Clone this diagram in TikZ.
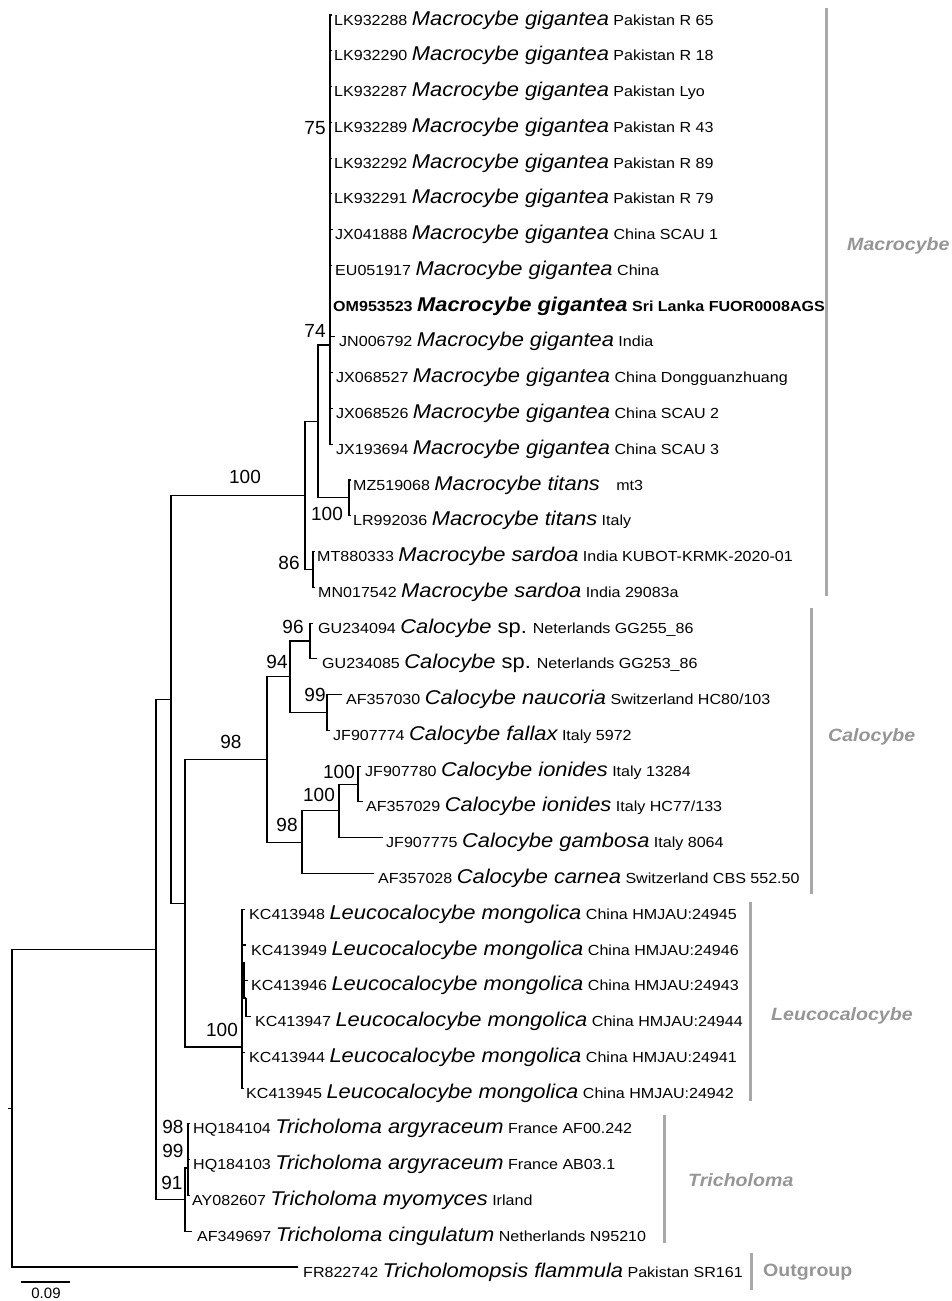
\documentclass[tikz,border=0pt]{standalone}
\usepackage{fontspec}
\setmainfont{Liberation Sans}
\newfontfamily\leaffont[FakeStretch=1.1]{Liberation Sans}
\newcommand{\accsize}{\fontsize{14.6}{17}\selectfont}
\newcommand{\spsize}{\fontsize{19.9}{23}\selectfont}
\newcommand{\taxon}[3]{\accsize #1 {\spsize\itshape #2} #3}
\definecolor{cladegray}{RGB}{150,150,150}
\definecolor{bargray}{RGB}{168,168,168}

\begin{document}
\begin{tikzpicture}[x=1pt, y=-1pt,
    branch/.style={line width=1.1pt},
    zerobranch/.style={line width=2.6pt},
    leaflab/.style={anchor=base west, inner sep=0pt, font=\leaffont},
    boot/.style={inner sep=0pt, font=\fontsize{19}{21}\selectfont},
    cladebar/.style={draw=bargray, line width=3pt},
    cladelab/.style={anchor=west, inner sep=0pt, text=cladegray,
        font=\leaffont\fontsize{17.8}{20}\selectfont\bfseries\itshape}]

    \useasboundingbox (0,0) rectangle (951,1301);

    % Internal nodes (x = depth, y = join point)
    \coordinate (root)   at (12,1108.3);
    \coordinate (stem)   at (8,1108.3);
    \coordinate (ingrp)  at (156,949.5);
    \coordinate (inB)    at (171,699.4);
    \coordinate (macro)  at (305,495.5);
    \coordinate (macA)   at (318,421.5);
    \coordinate (gig)    at (330,345);
    \coordinate (tit)    at (349,497.9);
    \coordinate (sard)   at (313,569.5);
    \coordinate (inC)    at (185,903.3);
    \coordinate (calo)   at (267,759.5);
    \coordinate (c94)    at (290,676.8);
    \coordinate (c96)    at (310,641);
    \coordinate (c99)    at (327,712.5);
    \coordinate (c98)    at (302,842.2);
    \coordinate (c100a)  at (339,810.9);
    \coordinate (c100b)  at (358,784.1);
    \coordinate (leu)    at (242,1047);
    \coordinate (leu2)   at (246,998);
    \coordinate (tri)    at (185,1199.6);
    \coordinate (tri2)   at (188,1168);

    % Leaf tips
    \coordinate (t1)  at (332,15.0);
    \coordinate (t2)  at (332,50.8);
    \coordinate (t3)  at (332,86.5);
    \coordinate (t4)  at (332,122.3);
    \coordinate (t5)  at (332,158.1);
    \coordinate (t6)  at (332,193.9);
    \coordinate (t7)  at (333,229.6);
    \coordinate (t8)  at (332,265.4);
    \coordinate (t9)  at (331,301.2);
    \coordinate (t10) at (335,336.9);
    \coordinate (t11) at (333,372.7);
    \coordinate (t12) at (333,408.5);
    \coordinate (t13) at (333,444.2);
    \coordinate (t14) at (351,480.0);
    \coordinate (t15) at (351,515.8);
    \coordinate (t16) at (315,551.6);
    \coordinate (t17) at (315,587.3);
    \coordinate (t18) at (313,623.1);
    \coordinate (t19) at (317,658.9);
    \coordinate (t20) at (342,694.6);
    \coordinate (t21) at (330,730.4);
    \coordinate (t22) at (361,766.2);
    \coordinate (t23) at (363,801.9);
    \coordinate (t24) at (383,837.7);
    \coordinate (t25) at (374,873.5);
    \coordinate (t26) at (245,909.2);
    \coordinate (t27) at (246,945.0);
    \coordinate (t28) at (248,980.8);
    \coordinate (t29) at (251,1016.6);
    \coordinate (t30) at (245,1052.3);
    \coordinate (t31) at (244,1088.1);
    \coordinate (t32) at (190,1123.9);
    \coordinate (t33) at (190,1159.6);
    \coordinate (t34) at (190,1195.4);
    \coordinate (t35) at (192,1231.2);
    \coordinate (t36) at (298,1267.0);

    % Branches
    \draw[branch] (stem) -- (root);
    \draw[branch] (root) |- (ingrp);
    \draw[branch] (root) |- (t36);
    \draw[branch] (ingrp) |- (inB);
    \draw[branch] (ingrp) |- (tri);
    \draw[branch] (inB) |- (macro);
    \draw[branch] (inB) |- (inC);
    \draw[branch] (macro) |- (macA);
    \draw[branch] (macro) |- (sard);
    \draw[branch] (macA) |- (gig);
    \draw[branch] (macA) |- (tit);
    \foreach \t in {1,...,13} \draw[branch] (gig) |- (t\t);
    \draw[branch] (tit) |- (t14);
    \draw[branch] (tit) |- (t15);
    \draw[branch] (sard) |- (t16);
    \draw[branch] (sard) |- (t17);
    \draw[branch] (inC) |- (calo);
    \draw[branch] (inC) |- (leu);
    \draw[branch] (calo) |- (c94);
    \draw[branch] (calo) |- (c98);
    \draw[branch] (c94) |- (c96);
    \draw[branch] (c94) |- (c99);
    \draw[branch] (c96) |- (t18);
    \draw[branch] (c96) |- (t19);
    \draw[branch] (c99) |- (t20);
    \draw[branch] (c99) |- (t21);
    \draw[branch] (c98) |- (c100a);
    \draw[branch] (c98) |- (t25);
    \draw[branch] (c100a) |- (c100b);
    \draw[branch] (c100a) |- (t24);
    \draw[branch] (c100b) |- (t22);
    \draw[branch] (c100b) |- (t23);
    \foreach \t in {26,27,28,30,31} \draw[branch] (leu) |- (t\t);
    \draw[branch] (leu) |- (leu2);
    \draw[branch] (leu2) |- (t29);
    \draw[branch] (tri) |- (tri2);
    \draw[branch] (tri) |- (t35);
    \foreach \t in {32,33,34} \draw[branch] (tri2) |- (t\t);

    % Near-zero subclades drawn as thick bars
    \draw[zerobranch] (330,147) -- (330,193);
    \draw[zerobranch] (330,372) -- (330,416);
    \draw[zerobranch] (244,962) -- (244,998);
    \draw[zerobranch] (188,1168) -- (188,1195);

    % Bootstrap values
    \node[boot] (b1)  at (245,477) {100};
    \node[boot] (b2)  at (315,128) {75};
    \node[boot] (b3)  at (315,331) {74};
    \node[boot] (b4)  at (327,514) {100};
    \node[boot] (b5)  at (289,563) {86};
    \node[boot] (b6)  at (293,627) {96};
    \node[boot] (b7)  at (277,662) {94};
    \node[boot] (b8)  at (315,695) {99};
    \node[boot] (b9)  at (231,742) {98};
    \node[boot] (b10) at (339,772) {100};
    \node[boot] (b11) at (319,795) {100};
    \node[boot] (b12) at (287,825) {98};
    \node[boot] (b13) at (222,1030) {100};
    \node[boot] (b14) at (173,1127) {98};
    \node[boot] (b15) at (173,1151) {99};
    \node[boot] (b16) at (172,1183) {91};

    % Leaf labels
    \node[leaflab] (l1)  at (334,25.0)  {\taxon{LK932288}{Macrocybe gigantea}{Pakistan R 65}};
    \node[leaflab] (l2)  at (334,60.8)  {\taxon{LK932290}{Macrocybe gigantea}{Pakistan R 18}};
    \node[leaflab] (l3)  at (334,96.5)  {\taxon{LK932287}{Macrocybe gigantea}{Pakistan Lyo}};
    \node[leaflab] (l4)  at (334,132.3) {\taxon{LK932289}{Macrocybe gigantea}{Pakistan R 43}};
    \node[leaflab] (l5)  at (334,168.1) {\taxon{LK932292}{Macrocybe gigantea}{Pakistan R 89}};
    \node[leaflab] (l6)  at (334,203.9) {\taxon{LK932291}{Macrocybe gigantea}{Pakistan R 79}};
    \node[leaflab] (l7)  at (335,239.6) {\taxon{JX041888}{Macrocybe gigantea}{China SCAU 1}};
    \node[leaflab] (l8)  at (335,275.4) {\taxon{EU051917}{Macrocybe gigantea}{China}};
    \node[leaflab] (l9)  at (333,311.2) {\bfseries\taxon{OM953523}{Macrocybe gigantea}{Sri Lanka FUOR0008AGS}};
    \node[leaflab] (l10) at (339,346.9) {\taxon{JN006792}{Macrocybe gigantea}{India}};
    \node[leaflab] (l11) at (336,382.7) {\taxon{JX068527}{Macrocybe gigantea}{China Dongguanzhuang}};
    \node[leaflab] (l12) at (336,418.5) {\taxon{JX068526}{Macrocybe gigantea}{China SCAU 2}};
    \node[leaflab] (l13) at (336,454.2) {\taxon{JX193694}{Macrocybe gigantea}{China SCAU 3}};
    \node[leaflab] (l14) at (353,490.0) {\taxon{MZ519068}{Macrocybe titans}{\hspace{12pt}mt3}};
    \node[leaflab] (l15) at (353,525.8) {\taxon{LR992036}{Macrocybe titans}{Italy}};
    \node[leaflab] (l16) at (317,561.6) {\taxon{MT880333}{Macrocybe sardoa}{India KUBOT-KRMK-2020-01}};
    \node[leaflab] (l17) at (318,597.3) {\taxon{MN017542}{Macrocybe sardoa}{India 29083a}};
    \node[leaflab] (l18) at (318,633.1) {\taxon{GU234094}{Calocybe \upshape sp.}{Neterlands GG255\_86}};
    \node[leaflab] (l19) at (322,668.9) {\taxon{GU234085}{Calocybe \upshape sp.}{Neterlands GG253\_86}};
    \node[leaflab] (l20) at (346,704.6) {\taxon{AF357030}{Calocybe naucoria}{Switzerland HC80/103}};
    \node[leaflab] (l21) at (333,740.4) {\taxon{JF907774}{Calocybe fallax}{Italy 5972}};
    \node[leaflab] (l22) at (365,776.2) {\taxon{JF907780}{Calocybe ionides}{Italy 13284}};
    \node[leaflab] (l23) at (366,811.9) {\taxon{AF357029}{Calocybe ionides}{Italy HC77/133}};
    \node[leaflab] (l24) at (386,847.7) {\taxon{JF907775}{Calocybe gambosa}{Italy 8064}};
    \node[leaflab] (l25) at (378,883.5) {\taxon{AF357028}{Calocybe carnea}{Switzerland CBS 552.50}};
    \node[leaflab] (l26) at (249,919.2) {\taxon{KC413948}{Leucocalocybe mongolica}{China HMJAU:24945}};
    \node[leaflab] (l27) at (251,955.0) {\taxon{KC413949}{Leucocalocybe mongolica}{China HMJAU:24946}};
    \node[leaflab] (l28) at (251,990.8) {\taxon{KC413946}{Leucocalocybe mongolica}{China HMJAU:24943}};
    \node[leaflab] (l29) at (255,1026.6) {\taxon{KC413947}{Leucocalocybe mongolica}{China HMJAU:24944}};
    \node[leaflab] (l30) at (249,1062.3) {\taxon{KC413944}{Leucocalocybe mongolica}{China HMJAU:24941}};
    \node[leaflab] (l31) at (246,1098.1) {\taxon{KC413945}{Leucocalocybe mongolica}{China HMJAU:24942}};
    \node[leaflab] (l32) at (193,1133.9) {\taxon{HQ184104}{Tricholoma argyraceum}{France AF00.242}};
    \node[leaflab] (l33) at (193,1169.6) {\taxon{HQ184103}{Tricholoma argyraceum}{France AB03.1}};
    \node[leaflab] (l34) at (192,1205.4) {\taxon{AY082607}{Tricholoma myomyces}{Irland}};
    \node[leaflab] (l35) at (197,1241.2) {\taxon{AF349697}{Tricholoma cingulatum}{Netherlands N95210}};
    \node[leaflab] (l36) at (303,1277.0) {\taxon{FR822742}{Tricholomopsis flammula}{Pakistan SR161}};

    % Clade bars and names
    \draw[cladebar] (826,8) -- (826,596);
    \node[cladelab] (macname) at (847,246) {Macrocybe};
    \draw[cladebar] (811,608) -- (811,894);
    \node[cladelab] (caloname) at (828,737) {Calocybe};
    \draw[cladebar] (750,902) -- (750,1101);
    \node[cladelab] (leuname) at (771,1016) {Leucocalocybe};
    \draw[cladebar] (664,1115) -- (664,1243);
    \node[cladelab] (triname) at (688,1180) {Tricholoma};
    \draw[cladebar] (751,1253) -- (751,1290);
    \node[cladelab, font=\leaffont\fontsize{17.8}{20}\selectfont\bfseries] (outname) at (763,1272) {Outgroup};

    % Scale bar
    \coordinate (sbL) at (21,1282);
    \coordinate (sbR) at (70,1282);
    \draw[branch] (sbL) -- (sbR);
    \node[inner sep=0pt, font=\fontsize{15}{17}\selectfont] (sblab) at (46,1293.5) {0.09};

\end{tikzpicture}
\end{document}
